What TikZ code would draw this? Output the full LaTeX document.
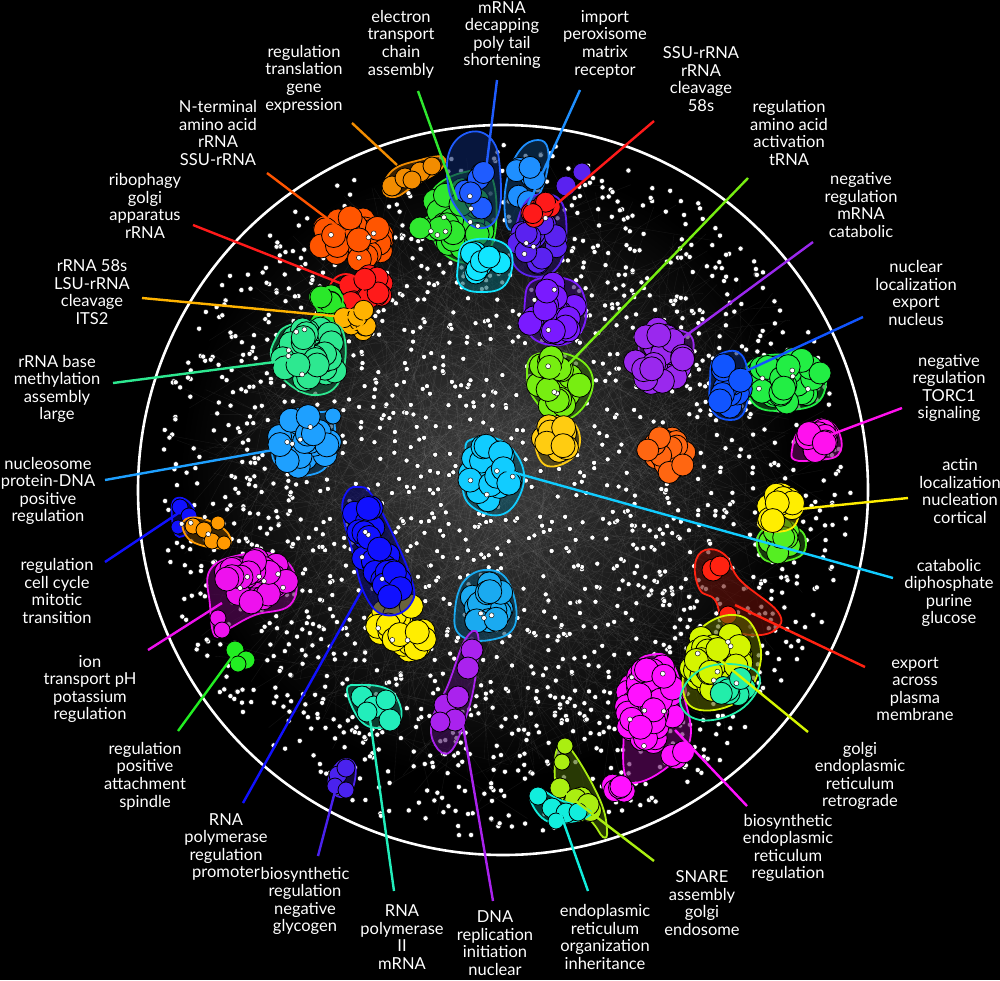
\documentclass[tikz,border=0pt]{standalone}
\usepackage{fontspec}
\setmainfont{Lato}
\definecolor{corange}{HTML}{F28C00}
\definecolor{cgreenA}{HTML}{2FE82F}
\definecolor{cblueA}{HTML}{1F5CFF}
\definecolor{cblueB}{HTML}{1E8FFF}
\definecolor{cred}{HTML}{FF1A1A}
\definecolor{cviolet}{HTML}{5A22F0}
\definecolor{ccyan}{HTML}{11E5FF}
\definecolor{corangered}{HTML}{FF5500}
\definecolor{cgreenB}{HTML}{2AE82A}
\definecolor{cgold}{HTML}{FFB300}
\definecolor{cspring}{HTML}{2DE890}
\definecolor{clblue}{HTML}{1EA0FF}
\definecolor{cblueC}{HTML}{1111FF}
\definecolor{corangeB}{HTML}{FF9900}
\definecolor{cmag}{HTML}{EE11EE}
\definecolor{cgreenC}{HTML}{22EE22}
\definecolor{cyellow}{HTML}{FFEE00}
\definecolor{ccyanB}{HTML}{11CCFF}
\definecolor{clblueB}{HTML}{1AAAF0}
\definecolor{cpurple}{HTML}{AA22EE}
\definecolor{caqua}{HTML}{22EEBB}
\definecolor{cindigo}{HTML}{4A22EE}
\definecolor{cpurpleB}{HTML}{7A1AFF}
\definecolor{clime}{HTML}{77EE11}
\definecolor{cgoldB}{HTML}{FFCC11}
\definecolor{cpurpleC}{HTML}{9A28EE}
\definecolor{cblueD}{HTML}{1155FF}
\definecolor{cgreenD}{HTML}{22EE44}
\definecolor{cmagB}{HTML}{FF11EE}
\definecolor{corangeC}{HTML}{FF6611}
\definecolor{cgreenE}{HTML}{55EE22}
\definecolor{credB}{HTML}{FF2211}
\definecolor{cyg}{HTML}{D4F500}
\definecolor{caquaB}{HTML}{22EEAA}
\definecolor{cmagC}{HTML}{FF11FF}
\definecolor{cygB}{HTML}{AAEE11}
\definecolor{ccyanC}{HTML}{11EEDD}
\newcommand{\clusterblob}[7]{%
  \foreach \k in {1,...,#5}{%
    \pgfmathsetmacro\ang{360*rnd}%
    \pgfmathsetmacro\rad{sqrt(rnd)}%
    \filldraw[fill=#6,draw=black,line width=0.8pt] ({#1+#3*\rad*cos(\ang)},{#2+#4*\rad*sin(\ang)}) circle (#7pt);
  }}
\newcommand{\clusterdots}[5]{%
  \foreach \k in {1,...,#5}{%
    \pgfmathsetmacro\ang{360*rnd}%
    \pgfmathsetmacro\rad{sqrt(rnd)}%
    \filldraw[fill=white,draw=black,line width=0.4pt] ({#1+#3*\rad*cos(\ang)},{#2+#4*\rad*sin(\ang)}) circle (2.5pt);
  }}
\newcommand{\onecirc}[4]{\filldraw[fill=#3,draw=black,line width=0.8pt] (#1,#2) circle (#4pt);}
\begin{document}
\begin{tikzpicture}[x=1pt,y=-1pt,
  lab/.style={text=white, align=center, font=\fontsize{16.5}{17.6}\selectfont, inner sep=0pt},
  con/.style={line width=2.4pt, draw=#1},
  hull/.style={draw=#1, line width=1.8pt, fill=#1!40!black, fill opacity=0.6}]
\fill[black] (0,0) rectangle (1000,980);
\useasboundingbox (0,0) rectangle (1000,980);
% glow
\shade[inner color=white!24!black, outer color=black] (490,470) circle (310pt);
% faint edges
\pgfmathsetseed{11}
\foreach \i in {1,...,700}{
  \pgfmathsetmacro\aa{360*rnd}\pgfmathsetmacro\ra{300*sqrt(rnd)}
  \pgfmathsetmacro\ab{360*rnd}\pgfmathsetmacro\rb{335*sqrt(rnd)}
  \draw[white, opacity=0.08, line width=0.35pt] ({495+\ra*cos(\aa)},{480+\ra*sin(\aa)}) -- ({503+\rb*cos(\ab)},{490+\rb*sin(\ab)});
}
% scattered dots
\foreach \i in {1,...,1300}{
  \pgfmathsetmacro\a{360*rnd}\pgfmathsetmacro\r{210+138*rnd}
  \filldraw[fill=white,draw=black,line width=0.4pt] ({503+\r*cos(\a)},{490+\r*sin(\a)}) circle (2.6pt);
}
\foreach \i in {1,...,650}{
  \pgfmathsetmacro\a{360*rnd}\pgfmathsetmacro\r{215*sqrt(rnd)}
  \filldraw[fill=white,draw=black,line width=0.4pt] ({500+\r*cos(\a)},{485+\r*sin(\a)}) circle (2.6pt);
}
% outer ring
\draw[white, line width=2.6pt] (503,490) circle (365pt);
% ---------- clusters ----------
% A orange
\draw[hull=corange] plot[smooth cycle, tension=0.7] coordinates {(383,190) (393,170) (420,160) (443,157) (440,170) (415,185) (395,197)};
\onecirc{392}{186}{corange}{10}\onecirc{405}{178}{corange}{10}\onecirc{420}{172}{corange}{10}\onecirc{432}{166}{corange}{9}\onecirc{412}{180}{corange}{9}
% H orange-red
\clusterblob{352}{240}{32}{24}{34}{corangered}{12}
% B green
\draw[hull=cgreenA] plot[smooth cycle, tension=0.7] coordinates {(433,190) (465,172) (492,178) (494,238) (472,262) (442,252) (430,222)};
\clusterblob{457}{220}{28}{33}{32}{cgreenA}{12}
\onecirc{420}{228}{cgreenA}{11}
% C blue
\draw[hull=cblueA] plot[smooth cycle, tension=0.7] coordinates {(450,150) (470,132) (492,140) (500,170) (498,215) (478,228) (458,210) (448,185)};
\clusterblob{477}{182}{13}{28}{7}{cblueA}{11}
% D light blue
\draw[hull=cblueB] plot[smooth cycle, tension=0.7] coordinates {(507,180) (520,150) (538,140) (548,150) (545,180) (530,210) (512,230) (505,215)};
\clusterblob{526}{185}{12}{26}{7}{cblueB}{11}
% F violet
\draw[hull=cviolet] plot[smooth cycle, tension=0.7] coordinates {(515,230) (530,198) (560,200) (566,240) (555,270) (530,276) (512,260)};
\clusterblob{537}{238}{22}{30}{20}{cviolet}{11}
\onecirc{582}{172}{cviolet}{9}\onecirc{566}{186}{cviolet}{10}
% E red
\clusterblob{542}{213}{12}{12}{8}{cred}{10}
% G cyan
\draw[hull=ccyan] plot[smooth cycle, tension=0.7] coordinates {(458,265) (465,243) (495,240) (512,255) (505,285) (480,292) (460,285)};
\clusterblob{484}{263}{20}{16}{10}{ccyan}{11}
% I red
\clusterblob{365}{290}{24}{17}{14}{cred}{11}
\draw[hull=cred, fill opacity=0] (346,292) ellipse (17pt and 18pt);
% J green
\clusterblob{322}{310}{14}{20}{10}{cgreenB}{11}
\draw[hull=cgreenB, fill opacity=0] (328,300) ellipse (15pt and 12pt);
% K gold
\clusterblob{358}{318}{17}{14}{8}{cgold}{10}
\draw[hull=cgold, fill opacity=0] (350,320) ellipse (14pt and 10pt);
% L spring
\draw[hull=cspring] plot[smooth cycle, tension=0.7] coordinates {(275,340) (290,325) (330,322) (345,340) (340,380) (318,395) (290,385) (272,360)};
\clusterblob{310}{356}{30}{30}{30}{cspring}{12}
% M nucleosome
\draw[hull=clblue] plot[smooth cycle, tension=0.7] coordinates {(272,452) (285,418) (320,412) (334,418) (330,460) (310,475) (285,470)};
\clusterblob{305}{442}{26}{26}{25}{clblue}{12}
\onecirc{333}{416}{clblue}{8}
% N small blue/orange
\draw[hull=cblueC] plot[smooth cycle, tension=0.7] coordinates {(172,505) (182,498) (194,510) (190,530) (176,535)};
\onecirc{180}{507}{cblueC}{8}\onecirc{189}{516}{cblueC}{8}\onecirc{178}{527}{cblueC}{7}
\draw[hull=corangeB] plot[smooth cycle, tension=0.7] coordinates {(183,522) (200,518) (225,530) (230,545) (215,548) (190,540)};
\onecirc{193}{526}{corangeB}{8}\onecirc{204}{530}{corangeB}{8}\onecirc{218}{523}{corangeB}{7}\onecirc{212}{541}{corangeB}{8}\onecirc{224}{543}{corangeB}{7}
% O magenta
\draw[hull=cmag] plot[smooth cycle, tension=0.7] coordinates {(210,570) (240,555) (275,555) (295,575) (290,605) (255,615) (230,628) (215,636) (210,605)};
\clusterblob{255}{582}{33}{23}{30}{cmag}{12}
\onecirc{218}{618}{cmag}{8}\onecirc{222}{630}{cmag}{8}
% P green
\onecirc{235}{650}{cgreenC}{9}\onecirc{246}{660}{cgreenC}{9}\onecirc{238}{664}{cgreenC}{8}
% R yellow
\clusterblob{402}{628}{26}{26}{25}{cyellow}{12}
% Q blue
\draw[hull=cblueC] plot[smooth cycle, tension=0.7] coordinates {(345,495) (357,487) (375,500) (410,575) (410,605) (385,615) (365,595) (352,550) (343,515)};
\clusterblob{362}{520}{13}{18}{9}{cblueC}{12}
\clusterblob{375}{555}{13}{20}{9}{cblueC}{12}
\clusterblob{393}{585}{16}{16}{10}{cblueC}{12}
% S catabolic
\draw[hull=ccyanB] plot[smooth cycle, tension=0.7] coordinates {(465,455) (470,440) (500,440) (522,465) (520,495) (500,515) (470,505) (462,480)};
\clusterblob{491}{472}{23}{30}{22}{ccyanB}{12}
% T
\draw[hull=clblueB] plot[smooth cycle, tension=0.7] coordinates {(455,610) (465,580) (490,570) (510,585) (515,625) (490,640) (460,635)};
\clusterblob{485}{605}{20}{23}{14}{clblueB}{12}
% U purple
\draw[hull=cpurple] plot[smooth cycle, tension=0.7] coordinates {(432,720) (448,685) (465,640) (478,635) (475,680) (465,720) (450,752) (435,745)};
\onecirc{472}{650}{cpurple}{11}\onecirc{468}{668}{cpurple}{11}\onecirc{445}{705}{cpurple}{11}\onecirc{458}{697}{cpurple}{11}\onecirc{455}{720}{cpurple}{11}\onecirc{440}{722}{cpurple}{10}
% V aqua
\draw[hull=caqua] plot[smooth cycle, tension=0.7] coordinates {(347,690) (360,685) (385,688) (398,700) (400,720) (380,728) (360,720)};
\onecirc{362}{697}{caqua}{11}\onecirc{374}{707}{caqua}{11}\onecirc{386}{700}{caqua}{10}\onecirc{390}{720}{caqua}{11}\onecirc{367}{712}{caqua}{10}
% W indigo
\draw[hull=cindigo] plot[smooth cycle, tension=0.7] coordinates {(330,775) (342,760) (355,765) (352,790) (340,797) (330,788)};
\onecirc{338}{775}{cindigo}{9}\onecirc{346}{768}{cindigo}{9}\onecirc{335}{786}{cindigo}{8}\onecirc{346}{790}{cindigo}{8}
% X purple big
\draw[hull=cpurpleB] plot[smooth cycle, tension=0.7] coordinates {(525,300) (535,280) (570,280) (585,300) (582,330) (560,345) (530,335)};
\clusterblob{552}{310}{26}{26}{25}{cpurpleB}{12}
% Y lime
\draw[hull=clime] plot[smooth cycle, tension=0.7] coordinates {(527,375) (535,355) (570,355) (592,375) (585,405) (560,420) (535,400)};
\clusterblob{557}{382}{23}{25}{22}{clime}{12}
% Z gold
\draw[hull=cgoldB] plot[smooth cycle, tension=0.7] coordinates {(535,440) (545,420) (570,420) (580,440) (570,460) (545,465)};
\clusterblob{556}{438}{16}{16}{10}{cgoldB}{12}
% AA purple
\draw[hull=cpurpleC] plot[smooth cycle, tension=0.7] coordinates {(640,340) (660,330) (690,335) (690,360) (670,375) (645,370)};
\clusterblob{660}{357}{26}{28}{25}{cpurpleC}{12}
% CC green
\draw[hull=cgreenD] plot[smooth cycle, tension=0.7] coordinates {(745,370) (770,355) (810,360) (825,370) (820,400) (790,410) (755,405)};
\clusterblob{785}{380}{33}{23}{35}{cgreenD}{12}
\onecirc{820}{373}{cgreenD}{11}
% BB blue
\draw[hull=cblueD] plot[smooth cycle, tension=0.7] coordinates {(710,380) (715,358) (738,352) (748,375) (745,410) (730,420) (712,410)};
\clusterblob{729}{386}{12}{24}{12}{cblueD}{12}
% DD magenta
\draw[hull=cmagB] plot[smooth cycle, tension=0.7] coordinates {(792,450) (800,430) (825,420) (840,435) (838,455) (815,460) (795,460)};
\clusterblob{818}{442}{16}{13}{12}{cmagB}{12}
% EE orange
\clusterblob{665}{455}{22}{18}{20}{corangeC}{11}
% GG green
\draw[hull=cgreenE] plot[smooth cycle, tension=0.7] coordinates {(757,540) (770,527) (800,530) (805,550) (790,560) (765,560)};
\clusterblob{782}{541}{19}{13}{12}{cgreenE}{11}
% FF yellow
\draw[hull=cyellow] plot[smooth cycle, tension=0.7] coordinates {(760,515) (768,490) (785,485) (798,500) (795,525) (775,532) (760,527)};
\clusterblob{778}{507}{15}{16}{10}{cyellow}{12}
% HH red
\draw[hull=credB] plot[smooth cycle, tension=0.7] coordinates {(695,565) (705,550) (725,555) (740,580) (778,612) (775,630) (750,635) (725,625) (715,600) (700,590)};
\onecirc{713}{570}{credB}{11}\onecirc{720}{566}{credB}{10}\onecirc{728}{615}{credB}{9}
% JJ magenta big
\draw[hull=cmagC] plot[smooth cycle, tension=0.7] coordinates {(628,690) (635,665) (650,655) (670,660) (685,700) (690,740) (670,765) (640,782) (625,775) (624,730)};
\clusterblob{652}{705}{28}{43}{45}{cmagC}{12}
\clusterblob{622}{787}{12}{9}{5}{cmagC}{11}
\clusterblob{680}{758}{10}{8}{4}{cmagC}{11}
% II golgi
\draw[hull=cyg] plot[smooth cycle, tension=0.7] coordinates {(690,650) (705,625) (735,615) (755,630) (760,665) (740,700) (700,710) (683,690)};
\clusterblob{718}{662}{28}{30}{35}{cyg}{12}
\clusterblob{733}{685}{16}{13}{8}{caquaB}{11}
\draw[hull=caquaB, fill opacity=0] plot[smooth cycle, tension=0.7] coordinates {(680,700) (700,670) (740,665) (760,680) (740,710) (700,720)};
% KK SNARE
\draw[hull=cygB] plot[smooth cycle, tension=0.7] coordinates {(555,760) (562,745) (575,755) (600,800) (607,830) (603,837) (590,820) (560,795)};
\onecirc{565}{746}{cygB}{8}\onecirc{562}{762}{cygB}{8}\onecirc{560}{788}{cygB}{10}
\clusterblob{583}{805}{12}{9}{7}{cygB}{11}
% LL cyan
\draw[hull=ccyanC] plot[smooth cycle, tension=0.7] coordinates {(530,798) (540,790) (560,800) (585,808) (590,815) (570,822) (545,820)};
\onecirc{538}{796}{ccyanC}{9}\onecirc{552}{808}{ccyanC}{10}\onecirc{566}{813}{ccyanC}{10}\onecirc{578}{812}{ccyanC}{9}\onecirc{556}{821}{ccyanC}{8}
% white dots on clusters
\clusterdots{457}{220}{28}{33}{8}
\clusterdots{352}{240}{32}{24}{4}
\clusterdots{310}{356}{30}{30}{5}
\clusterdots{305}{442}{26}{26}{4}
\clusterdots{255}{582}{33}{23}{6}
\clusterdots{375}{555}{13}{40}{4}
\clusterdots{491}{472}{23}{30}{4}
\clusterdots{652}{705}{28}{43}{6}
\clusterdots{718}{662}{28}{30}{6}
\clusterdots{785}{380}{33}{23}{5}
\clusterdots{552}{310}{26}{26}{3}
\clusterdots{557}{382}{23}{25}{3}
\clusterdots{402}{628}{26}{26}{3}
\clusterdots{485}{605}{20}{23}{3}
\clusterdots{537}{238}{22}{30}{4}
\clusterdots{200}{525}{20}{12}{4}
% ---------- labels ----------
\node[lab] (l1) at (304,79) {regulation\\translation\\gene\\expression};
\node[lab] (l2) at (401,44) {electron\\transport\\chain\\assembly};
\node[lab] (l3) at (502,35) {mRNA\\decapping\\poly tail\\shortening};
\node[lab] (l4) at (605,44) {import\\peroxisome\\matrix\\receptor};
\node[lab] (l5) at (701,79) {SSU-rRNA\\rRNA\\cleavage\\58s};
\node[lab] (l6) at (789,133) {regulation\\amino acid\\activation\\tRNA};
\node[lab] (l7) at (861,205) {negative\\regulation\\mRNA\\catabolic};
\node[lab] (l8) at (916,293) {nuclear\\localization\\export\\nucleus};
\node[lab] (l9) at (949,388) {negative\\regulation\\TORC1\\signaling};
\node[lab] (l10) at (960,491) {actin\\localization\\nucleation\\cortical};
\node[lab] (l11) at (949,593) {catabolic\\diphosphate\\purine\\glucose};
\node[lab] (l12) at (915,689) {export\\across\\plasma\\membrane};
\node[lab] (l13) at (860,776) {golgi\\endoplasmic\\reticulum\\retrograde};
\node[lab] (l14) at (788,848) {biosynthetic\\endoplasmic\\reticulum\\regulation};
\node[lab] (l15) at (702,903) {SNARE\\assembly\\golgi\\endosome};
\node[lab] (l16) at (605,937) {endoplasmic\\reticulum\\organization\\inheritance};
\node[lab] (l17) at (495,943) {DNA\\replication\\initiation\\nuclear};
\node[lab] (l18) at (402,937) {RNA\\polymerase\\II\\mRNA};
\node[lab] (l19) at (305,901) {biosynthetic\\regulation\\negative\\glycogen};
\node[lab] (l20) at (226,847) {RNA\\polymerase\\regulation\\promoter};
\node[lab] (l21) at (145,776) {regulation\\positive\\attachment\\spindle};
\node[lab] (l22) at (90,689) {ion\\transport pH\\potassium\\regulation};
\node[lab] (l23) at (57,591) {regulation\\cell cycle\\mitotic\\transition};
\node[lab] (l24) at (48,491) {nucleosome\\protein-DNA\\positive\\regulation};
\node[lab] (l25) at (57,389) {rRNA base\\methylation\\assembly\\large};
\node[lab] (l26) at (92,292) {rRNA 58s\\LSU-rRNA\\cleavage\\ITS2};
\node[lab] (l27) at (145,206) {ribophagy\\golgi\\apparatus\\rRNA};
\node[lab] (l28) at (218,133) {N-terminal\\amino acid\\rRNA\\SSU-rRNA};
% ---------- connector ends ----------
\coordinate (s1) at (352,123);  \coordinate (t1) at (397,165);
\coordinate (s2) at (418,91);   \coordinate (t2) at (457,200);
\coordinate (s3) at (497,80);   \coordinate (t3) at (486,170);
\coordinate (s4) at (580,90);   \coordinate (t4) at (528,205);
\coordinate (s5) at (654,121);  \coordinate (t5) at (552,208);
\coordinate (s6) at (748,178);  \coordinate (t6) at (560,373);
\coordinate (s7) at (813,242);  \coordinate (t7) at (680,340);
\coordinate (s8) at (863,317);  \coordinate (t8) at (733,377);
\coordinate (s9) at (902,408);  \coordinate (t9) at (830,435);
\coordinate (s10) at (908,498); \coordinate (t10) at (790,510);
\coordinate (s11) at (893,578); \coordinate (t11) at (505,470);
\coordinate (s12) at (865,667); \coordinate (t12) at (735,605);
\coordinate (s13) at (808,732); \coordinate (t13) at (720,660);
\coordinate (s14) at (747,806); \coordinate (t14) at (675,730);
\coordinate (s15) at (654,861); \coordinate (t15) at (565,793);
\coordinate (s16) at (588,891); \coordinate (t16) at (560,812);
\coordinate (s17) at (493,901); \coordinate (t17) at (462,720);
\coordinate (s18) at (394,891); \coordinate (t18) at (368,705);
\coordinate (s19) at (318,856); \coordinate (t19) at (338,780);
\coordinate (s20) at (243,803); \coordinate (t20) at (362,590);
\coordinate (s21) at (178,731); \coordinate (t21) at (232,657);
\coordinate (s22) at (148,650); \coordinate (t22) at (222,603);
\coordinate (s23) at (105,562); \coordinate (t23) at (180,512);
\coordinate (s24) at (105,480); \coordinate (t24) at (290,447);
\coordinate (s25) at (113,383); \coordinate (t25) at (290,360);
\coordinate (s26) at (142,298); \coordinate (t26) at (355,318);
\coordinate (s27) at (193,225); \coordinate (t27) at (345,285);
\coordinate (s28) at (267,173); \coordinate (t28) at (345,232);
\draw[con=corange] (s1) -- (t1);
\draw[con=cgreenA] (s2) -- (t2);
\draw[con=cblueA] (s3) -- (t3);
\draw[con=cblueB] (s4) -- (t4);
\draw[con=cred] (s5) -- (t5);
\draw[con=clime] (s6) -- (t6);
\draw[con=cpurpleC] (s7) -- (t7);
\draw[con=cblueD] (s8) -- (t8);
\draw[con=cmagB] (s9) -- (t9);
\draw[con=cyellow] (s10) -- (t10);
\draw[con=ccyanB] (s11) -- (t11);
\draw[con=credB] (s12) -- (t12);
\draw[con=cyg] (s13) -- (t13);
\draw[con=cmagC] (s14) -- (t14);
\draw[con=cygB] (s15) -- (t15);
\draw[con=ccyanC] (s16) -- (t16);
\draw[con=cpurple] (s17) -- (t17);
\draw[con=caqua] (s18) -- (t18);
\draw[con=cindigo] (s19) -- (t19);
\draw[con=cblueC] (s20) -- (t20);
\draw[con=cgreenC] (s21) -- (t21);
\draw[con=cmag] (s22) -- (t22);
\draw[con=cblueC] (s23) -- (t23);
\draw[con=clblue] (s24) -- (t24);
\draw[con=cspring] (s25) -- (t25);
\draw[con=cgold] (s26) -- (t26);
\draw[con=cred] (s27) -- (t27);
\draw[con=corangered] (s28) -- (t28);
\end{tikzpicture}
\end{document}
